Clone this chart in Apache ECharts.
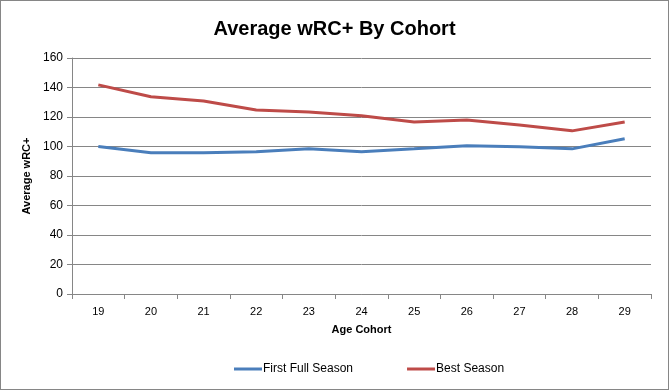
<!DOCTYPE html>
<html><head><meta charset="utf-8">
<script src="https://cdn.jsdelivr.net/npm/echarts@6/dist/echarts.min.js"></script>
<style>html,body{margin:0;padding:0;background:#fff}#c{width:669px;height:390px;box-sizing:border-box;border:1px solid #868686}</style>
</head><body><div id="c"></div>
<script>
const categories = ['19','20','21','22','23','24','25','26','27','28','29'];
const firstFullSeason = [100, 95.7, 95.7, 96.4, 98.4, 96.4, 98.4, 100.5, 99.8, 98.4, 105.2];
const bestSeason = [141.8, 133.7, 130.8, 124.7, 123.4, 120.9, 116.6, 118, 114.6, 110.6, 116.6];
const yTicks = {min: 0, max: 160, interval: 20};

const chart = echarts.init(document.getElementById('c'));
const font = 'Liberation Sans, Arial, sans-serif';
chart.setOption({
  animation: false,
  title: {text: 'Average wRC+ By Cohort', left: 'center', top: 13,
    textStyle: {fontFamily: font, fontSize: 20, fontWeight: 'bold', color: '#000'}},
  grid: {left: 71, right: 17, top: 57, bottom: 95, containLabel: false},
  legend: {bottom: 9, left: 228, itemGap: 54, itemWidth: 28, itemHeight: 3,
    icon: 'rect', textStyle: {fontFamily: font, fontSize: 12, color: '#000', padding: [0,0,0,-4]},
    data: ['First Full Season', 'Best Season']},
  xAxis: {type: 'category', data: categories, boundaryGap: true,
    name: 'Age Cohort', nameLocation: 'middle', nameGap: 30,
    nameTextStyle: {fontFamily: font, fontSize: 11, fontWeight: 'bold', color: '#000'},
    axisLine: {lineStyle: {color: '#868686'}},
    axisTick: {show: true, alignWithLabel: false, length: 5, lineStyle: {color: '#868686'}},
    axisLabel: {fontFamily: font, fontSize: 11, color: '#000', margin: 12}},
  yAxis: {type: 'value', min: yTicks.min, max: yTicks.max, interval: yTicks.interval,
    name: 'Average wRC+', nameLocation: 'middle', nameGap: 37,
    nameTextStyle: {fontFamily: font, fontSize: 11, fontWeight: 'bold', color: '#000'},
    axisLine: {show: true, lineStyle: {color: '#868686'}},
    axisTick: {show: true, length: 5, lineStyle: {color: '#868686'}},
    axisLabel: {fontFamily: font, fontSize: 12, color: '#000', margin: 9},
    splitLine: {lineStyle: {color: '#868686', width: 1}}},
  series: [
    {name: 'First Full Season', type: 'line', data: firstFullSeason, symbol: 'none',
      lineStyle: {color: '#4A7EBB', width: 3}, itemStyle: {color: '#4A7EBB'}},
    {name: 'Best Season', type: 'line', data: bestSeason, symbol: 'none',
      lineStyle: {color: '#BE4B48', width: 3}, itemStyle: {color: '#BE4B48'}}
  ]
});
</script></body></html>
